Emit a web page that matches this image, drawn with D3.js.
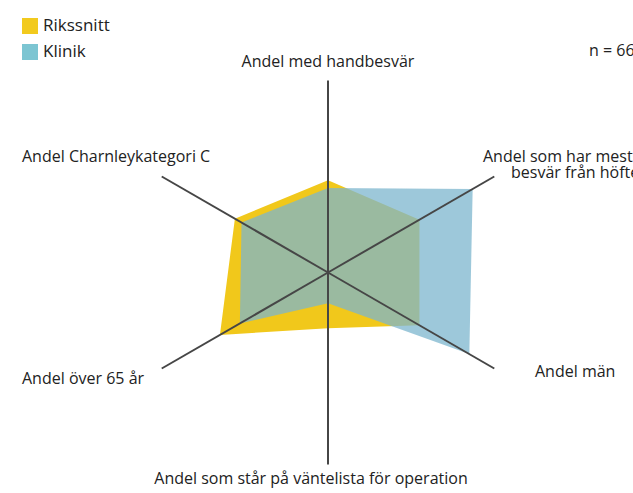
<!DOCTYPE html>
<html>
<head>
    <meta charset="utf-8" />
    <script src="https://d3js.org/d3.v7.min.js"></script>
    <style>
        body { margin: 0; background: #fff; }
        text { font-family: "Open Sans", sans-serif; font-size: 16px; fill: #222; }
        .legend text { font-size: 17px; }
    </style>
</head>
<body>
    <script type="text/javascript">
        var w = 633,
            h = 493;

        // axes clockwise from the top
        var axes = ["Andel med handbesvär", "Andel som har mest besvär från höften", "Andel män",
                    "Andel som står på väntelista för operation", "Andel över 65 år", "Andel Charnleykategori C"];
        var rikssnitt = [48, 55, 55, 29, 65, 56];
        var klinik = [44, 87, 85, 16, 53, 52];
        var seriesNames = ["Rikssnitt", "Klinik"];
        var nLabel = "n = 66";

        var cx = 328, cy = 272.5;
        var r = d3.scaleLinear().domain([0, 100]).range([0, 192]);
        var angle = function(i){ return i * Math.PI / 3; };

        var svg = d3.select("body")
                    .append("svg")
                    .attr("width", w)
                    .attr("height", h);

        var g = svg.append("g")
                   .attr("transform", "translate(" + cx + "," + cy + ")");

        var radar = d3.lineRadial()
                      .angle(function(d, i){ return angle(i); })
                      .radius(function(d){ return r(d); })
                      .curve(d3.curveLinearClosed);

        g.append("path")
         .attr("d", radar(rikssnitt))
         .style("fill", "#f1c81b");

        g.append("path")
         .attr("d", radar(klinik))
         .style("fill", "rgb(124,182,206)")
         .style("fill-opacity", 0.75);

        g.selectAll("line.axis")
         .data(axes)
         .enter()
         .append("line")
         .attr("class", "axis")
         .attr("x1", 0).attr("y1", 0)
         .attr("x2", function(d, i){ return r(100) * Math.sin(angle(i)); })
         .attr("y2", function(d, i){ return -r(100) * Math.cos(angle(i)); })
         .style("stroke", "#464646")
         .style("stroke-width", 2);

        // axis labels
        svg.append("text").attr("x", 328).attr("y", 67).attr("text-anchor", "middle").text(axes[0]);
        svg.append("text").attr("x", 483).attr("y", 162).text("Andel som har mest");
        svg.append("text").attr("x", 511).attr("y", 178).text("besvär från höften");
        svg.append("text").attr("x", 535).attr("y", 377).text(axes[2]);
        svg.append("text").attr("x", 311).attr("y", 484).attr("text-anchor", "middle").text(axes[3]);
        svg.append("text").attr("x", 22).attr("y", 384).text(axes[4]);
        svg.append("text").attr("x", 22).attr("y", 162).text(axes[5]);
        svg.append("text").attr("x", 589).attr("y", 56).text(nLabel);

        // legend
        var legend = svg.selectAll("g.legend")
                        .data(seriesNames)
                        .enter()
                        .append("g")
                        .attr("class", "legend")
                        .attr("transform", function(d, i){ return "translate(22," + (18 + i * 26) + ")"; });
        legend.append("rect")
              .attr("width", 16).attr("height", 16)
              .style("fill", function(d, i){ return i === 0 ? "#f2ca1e" : "#7cc5d2"; });
        legend.append("text")
              .attr("x", 21).attr("y", 13)
              .text(function(d){ return d; });
    </script>
</body>
</html>
